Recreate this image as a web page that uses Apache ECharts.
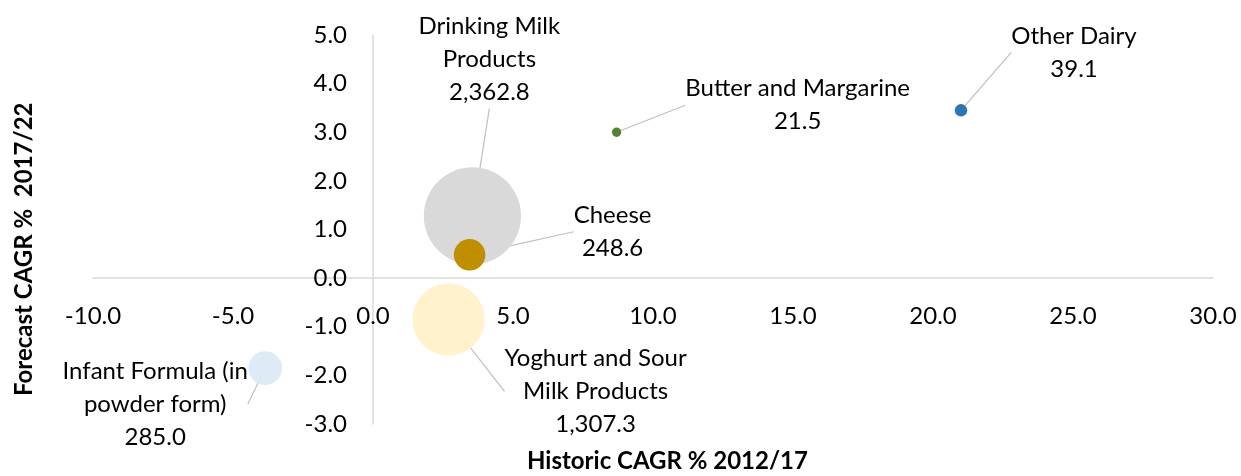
<!DOCTYPE html>
<html>
<head>
<meta charset="utf-8">
<script src="https://cdn.jsdelivr.net/npm/echarts@6/dist/echarts.min.js"></script>
<style>
  html, body { margin: 0; padding: 0; background: #fff; }
  #chart { width: 1241px; height: 476px; }
</style>
</head>
<body>
<div id="chart"></div>
<script>
// data
const categories = ['Drinking Milk\nProducts', 'Yoghurt and Sour\nMilk Products', 'Cheese',
  'Infant Formula (in\npowder form)', 'Butter and Margarine', 'Other Dairy'];
const historicCagr = [3.55, 2.7, 3.45, -3.85, 8.7, 21.0];
const forecastCagr = [1.28, -0.85, 0.48, -1.85, 3.0, 3.45];
const marketSize = [2362.8, 1307.3, 248.6, 285.0, 21.5, 39.1];
const xTicks = { min: -10, max: 30, interval: 5 };
const yTicks = { min: -3, max: 5, interval: 1 };

// styling
const colors = ['#D9D9D9', '#FFF2CC', '#BF8F00', '#DEEBF7', '#548235', '#2E75B6'];
// label offsets from bubble centre (px)
const labelOffsets = [[17, -157], [147, 72], [143, -23], [-110, 36], [181, -27], [113, -58]];
const font = 'Lato, "Liberation Sans", sans-serif';
const gridColor = '#D9D9D9';

function fmt(v) {
  return v.toLocaleString('en-US', { minimumFractionDigits: 1, maximumFractionDigits: 1 });
}

let seriesData = [];
for (let i in categories) {
  seriesData.push({
    name: categories[i],
    value: [historicCagr[i], forecastCagr[i], marketSize[i]],
    itemStyle: { color: colors[i], opacity: 1 }
  });
}

const chart = echarts.init(document.getElementById('chart'), null, { renderer: 'canvas' });

let option = {
  backgroundColor: '#fff',
  animation: false,
  textStyle: { fontFamily: font },
  grid: { left: 93, right: 28, top: 35, bottom: 52, containLabel: false },
  xAxis: {
    type: 'value',
    min: xTicks.min,
    max: xTicks.max,
    interval: xTicks.interval,
    // move the whole axis (line + labels) up to y = 0
    offset: -146,
    splitLine: { show: false },
    axisTick: { show: false },
    axisLine: { onZero: false, lineStyle: { color: gridColor, width: 1.5 } },
    axisLabel: {
      color: '#000', fontSize: 24, fontFamily: font, margin: 26,
      formatter: v => v.toFixed(1)
    }
  },
  yAxis: {
    type: 'value',
    min: yTicks.min,
    max: yTicks.max,
    interval: yTicks.interval,
    // move the whole axis right to x = 0
    offset: -280,
    splitLine: { show: false },
    axisTick: { show: false },
    axisLine: { onZero: false, lineStyle: { color: gridColor, width: 1.5 } },
    axisLabel: {
      color: '#000', fontSize: 24, fontFamily: font, margin: 26,
      formatter: v => v.toFixed(1)
    }
  },
  graphic: [{
    type: 'text',
    left: 527, top: 449,
    style: { text: 'Historic CAGR % 2012/17', font: 'bold 24px ' + font, fill: '#000' }
  }, {
    type: 'text',
    x: 12, y: 396, rotation: Math.PI / 2,
    style: { text: 'Forecast CAGR %  2017/22', font: 'bold 24px ' + font, fill: '#000' }
  }],
  series: [{
    type: 'scatter',
    data: seriesData,
    symbolSize: val => 2 * Math.sqrt(val[2]),
    label: {
      show: true,
      position: 'inside',
      color: '#000',
      fontSize: 24,
      lineHeight: 33,
      fontFamily: font,
      align: 'center',
      formatter: p => p.name + '\n' + fmt(p.value[2])
    },
    labelLine: {
      show: true,
      lineStyle: { color: '#BFBFBF', width: 1.2 }
    },
    labelLayout: params => ({
      dx: labelOffsets[params.dataIndex][0],
      dy: labelOffsets[params.dataIndex][1],
      hideOverlap: false
    })
  }]
};

chart.setOption(option);
</script>
</body>
</html>
